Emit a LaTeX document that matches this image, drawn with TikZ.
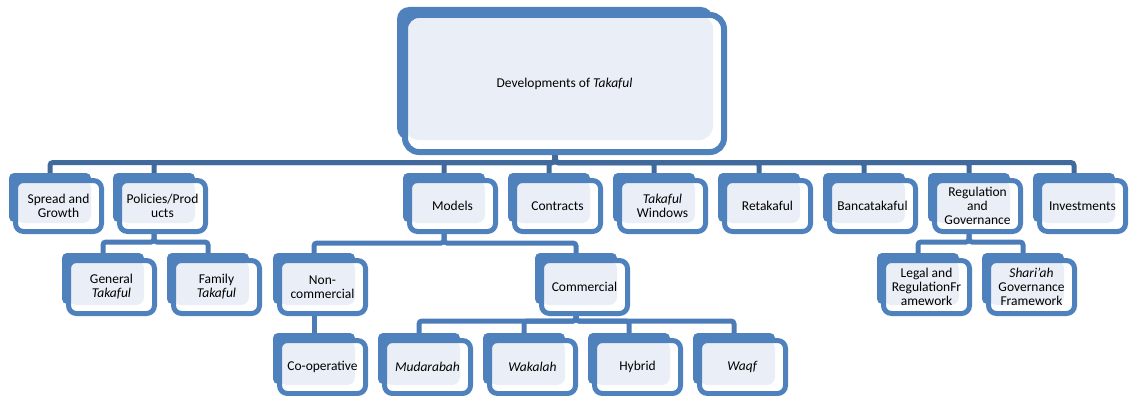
\documentclass[tikz,border=0pt]{standalone}
\usepackage{fontspec}
\setmainfont{Carlito}
\usetikzlibrary{calc}

\definecolor{cardblue}{RGB}{79,129,189}
\definecolor{cardfill}{RGB}{234,239,247}
\definecolor{busblue}{RGB}{64,106,156}
\definecolor{subbus}{RGB}{76,124,184}

\pgfdeclarelayer{bg}
\pgfsetlayers{bg,main}

\tikzset{
  cardnode/.style={draw=cardblue, line width=5pt, fill=white, rounded corners=8pt,
    inner sep=0pt, outer sep=0pt, align=center, text=black,
    font=\fontsize{13.5}{14}\selectfont,
    path picture={\fill[cardfill] (path picture bounding box.north west) rectangle
      ([xshift=-10.5pt,yshift=8.5pt]path picture bounding box.south east);}},
  mainlink/.style={draw=busblue, line width=5pt, rounded corners=3pt},
  sublink/.style={draw=subbus, line width=5pt, rounded corners=3pt},
}

% card: name, left, top, width, height, text
\newcommand\card[6]{%
  \fill[cardblue, rounded corners=5pt] (#2,#3) rectangle ++(#4-13,#5-11);
  \node[cardnode, minimum width={#4pt-9pt}, minimum height={#5pt-9pt}]
    (#1) at (#2+#4/2+2, #3+#5/2+3) {#6};
  \coordinate (#1-top) at ([xshift=-8.5pt,yshift=1pt]#1.north);
  \coordinate (#1-bot) at ([xshift=-8.5pt,yshift=1pt]#1.south);
}

\begin{document}
\begin{tikzpicture}[x=1pt, y=-1pt]
\useasboundingbox (0,0) rectangle (1130,396);

% root card
\fill[cardblue, rounded corners=12pt] (397,7) rectangle (713,140);
\node[draw=cardblue, line width=6pt, fill=white, rounded corners=14pt,
  inner sep=0pt, outer sep=0pt, minimum width=319pt, minimum height=137pt,
  font=\fontsize{13.5}{14}\selectfont,
  path picture={\fill[cardfill] (path picture bounding box.north west) rectangle
    ([xshift=-11pt,yshift=12pt]path picture bounding box.south east);}]
  (root) at (564.5,83.5) {Developments of \textit{Takaful}};
\coordinate (root-bot) at (555,152);

% first level
\card{spread}{9}{173}{95}{60}{Spread and\\Growth}
\card{policies}{113}{173}{95}{60}{Policies/Prod\\ucts}
\card{models}{403}{173}{95}{60}{Models}
\card{contracts}{508}{173}{95}{60}{Contracts}
\card{windows}{613}{173}{95}{60}{\textit{Takaful}\\Windows}
\card{retakaful}{718}{173}{95}{60}{Retakaful}
\card{banca}{823}{173}{95}{60}{Bancatakaful}
\card{regulation}{928}{173}{95}{60}{Regulation\\and\\Governance}
\card{invest}{1033}{173}{95}{60}{Investments}

% second level
\card{general}{62}{253}{95}{62}{General\\\textit{Takaful}}
\card{family}{167}{253}{95}{62}{Family\\\textit{Takaful}}
\card{noncom}{273}{253}{95}{62}{Non-\\commercial}
\card{commercial}{535}{253}{95}{62}{Commercial}
\card{legal}{877}{253}{95}{62}{Legal and\\RegulationFr\\amework}
\card{shariah}{982}{253}{95}{62}{\textit{Shari'ah}\\Governance\\Framework}

% third level
\card{coop}{273}{333}{95}{62}{Co-operative}
\card{mudarabah}{378}{333}{95}{62}{\textit{Mudarabah}}
\card{wakalah}{483}{333}{95}{62}{\textit{Wakalah}}
\card{hybrid}{588}{333}{95}{62}{Hybrid}
\card{waqf}{693}{333}{95}{62}{\textit{Waqf}}

\begin{pgfonlayer}{bg}
  \foreach \c in {spread,policies,models,contracts,windows,retakaful,banca,regulation,invest}
    \draw[mainlink] (root-bot) -- ++(0,10.5) -| (\c-top);
  \foreach \c in {general,family}
    \draw[sublink] (policies-bot) -- ++(0,11.5) -| (\c-top);
  \foreach \c in {noncom,commercial}
    \draw[sublink] (models-bot) -- ++(0,12.5) -| (\c-top);
  \foreach \c in {legal,shariah}
    \draw[sublink] (regulation-bot) -- ++(0,11.5) -| (\c-top);
  \draw[sublink] (noncom-bot) -- (coop-top);
  \foreach \c in {mudarabah,wakalah,hybrid,waqf}
    \draw[sublink] (commercial-bot) -- ++(0,8.5) -| (\c-top);
\end{pgfonlayer}
\end{tikzpicture}
\end{document}
